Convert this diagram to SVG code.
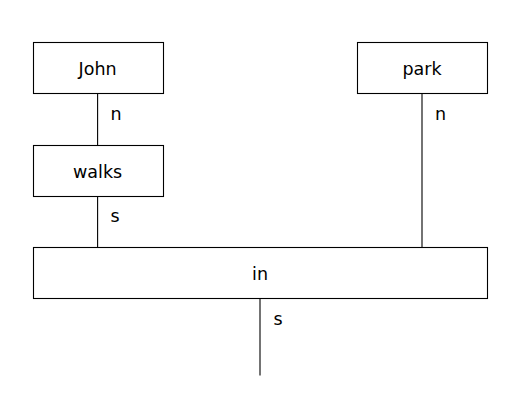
<svg xmlns="http://www.w3.org/2000/svg" width="519" height="419" viewBox="0 0 519 419">
<style>
.b{fill:#fff;stroke:#000;stroke-width:1.1}
line{stroke:#000;stroke-width:1.1}
text{font-family:"DejaVu Sans",sans-serif;font-size:17.5px;fill:#000}
.c{text-anchor:middle;dominant-baseline:central}
.l{dominant-baseline:central}
</style>
<rect width="519" height="419" fill="#fff"/>
<g id="connectors">
<line x1="97.6" y1="93.5" x2="97.6" y2="145.5"/>
<line x1="97.6" y1="196.5" x2="97.6" y2="247.5"/>
<line x1="422" y1="93.5" x2="422" y2="247.5"/>
<line x1="260" y1="298.5" x2="260" y2="375.5"/>
<text class="l" x="110.5" y="114">n</text>
<text class="l" x="110.5" y="216">s</text>
<text class="l" x="435" y="114">n</text>
<text class="l" x="273.5" y="319">s</text>
</g>
<g id="John"><rect class="b" x="33.5" y="42.5" width="130" height="51"/><text class="c" x="97.6" y="69">John</text></g>
<g id="park"><rect class="b" x="357.5" y="42.5" width="130" height="51"/><text class="c" x="422" y="69">park</text></g>
<g id="walks"><rect class="b" x="33.5" y="145.5" width="130" height="51"/><text class="c" x="97.6" y="172">walks</text></g>
<g id="in"><rect class="b" x="33.5" y="247.5" width="454" height="51"/><text class="c" x="260" y="274">in</text></g>
</svg>
